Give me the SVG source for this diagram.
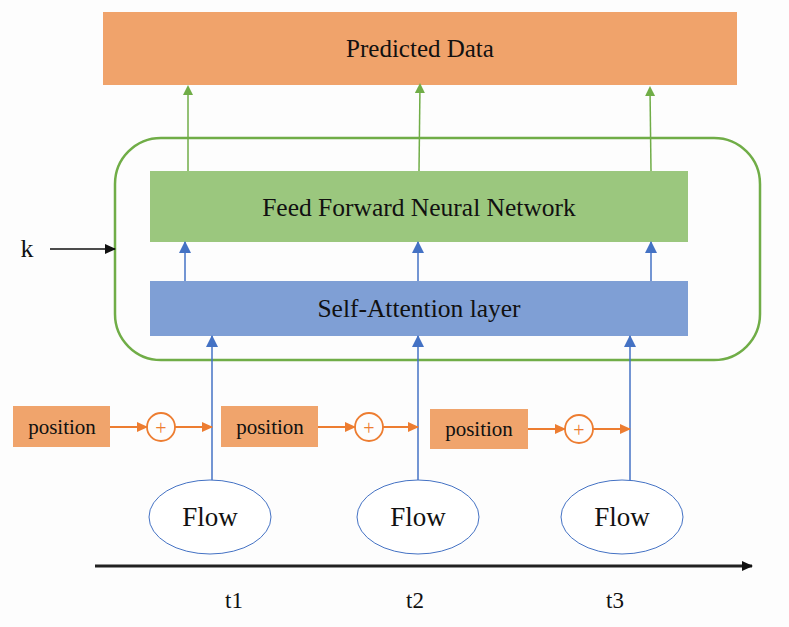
<svg xmlns="http://www.w3.org/2000/svg" width="789" height="627" viewBox="0 0 789 627">
<defs>
<style>
text{fill:#111;text-anchor:middle;dominant-baseline:central}
.green{stroke:#70AD47;stroke-width:1.5;fill:none}
.blue{stroke:#4472C4;stroke-width:1.5;fill:none}
.orange{stroke:#ED7D31;stroke-width:1.8;fill:none}
.pos{fill:#F0A46C}
</style>
<marker id="ag" markerWidth="10" markerHeight="12" refX="8" refY="5" orient="auto" markerUnits="userSpaceOnUse"><path d="M0,0 L10,5 L0,10 Z" fill="#70AD47"/></marker>
<marker id="ab" markerWidth="14" markerHeight="14" refX="11" refY="6" orient="auto" markerUnits="userSpaceOnUse"><path d="M0,0 L12,6 L0,12 Z" fill="#4472C4"/></marker>
<marker id="ao" markerWidth="12" markerHeight="12" refX="10" refY="5" orient="auto" markerUnits="userSpaceOnUse"><path d="M0,0 L11,5 L0,10 Z" fill="#ED7D31"/></marker>
<marker id="ak" markerWidth="12" markerHeight="12" refX="10" refY="5" orient="auto" markerUnits="userSpaceOnUse"><path d="M0,0 L11,5 L0,10 Z" fill="#111"/></marker>
</defs>
<rect width="789" height="627" fill="#fdfdfd"/>
<g font-family="'Liberation Serif', 'Times New Roman', serif">
<g id="predicted">
<rect x="103" y="12" width="634" height="73" fill="#F0A36B"/>
<text x="420" y="48" font-size="25">Predicted Data</text>
</g>
<g id="container">
<rect x="115" y="138" width="645" height="222" rx="46" ry="46" fill="none" stroke="#70AD47" stroke-width="2.5"/>
</g>
<g id="ffnn">
<rect x="150" y="171" width="538" height="71" fill="#9BC77E"/>
<text x="419" y="207" font-size="25.5">Feed Forward Neural Network</text>
</g>
<g id="attention">
<rect x="150" y="281" width="538" height="55" fill="#7F9FD5"/>
<text x="419" y="308" font-size="25.5">Self-Attention layer</text>
</g>
<g id="k">
<text x="27" y="248" font-size="26">k</text>
</g>
<g id="pos1"><rect class="pos" x="13" y="406" width="97" height="41"/><text x="62" y="427" font-size="21">position</text></g>
<g id="pos2"><rect class="pos" x="221" y="406" width="97" height="41"/><text x="270" y="427" font-size="21">position</text></g>
<g id="pos3"><rect class="pos" x="430" y="409" width="98" height="40"/><text x="479" y="429" font-size="21">position</text></g>
<g id="plus1"><circle class="orange" cx="161" cy="427" r="14"/><text x="161" y="428" font-size="20" style="fill:#ED7D31">+</text></g>
<g id="plus2"><circle class="orange" cx="369" cy="427" r="14"/><text x="369" y="428" font-size="20" style="fill:#ED7D31">+</text></g>
<g id="plus3"><circle class="orange" cx="579" cy="429" r="14"/><text x="579" y="430" font-size="20" style="fill:#ED7D31">+</text></g>
<g id="flow1"><ellipse cx="210" cy="517" rx="61" ry="37" fill="#fff" stroke="#4472C4" stroke-width="1"/><text x="210" y="517" font-size="27">Flow</text></g>
<g id="flow2"><ellipse cx="418" cy="517" rx="61" ry="37" fill="#fff" stroke="#4472C4" stroke-width="1"/><text x="418" y="517" font-size="27">Flow</text></g>
<g id="flow3"><ellipse cx="622" cy="517" rx="61" ry="37" fill="#fff" stroke="#4472C4" stroke-width="1"/><text x="622" y="517" font-size="27">Flow</text></g>
<g id="timeline">
<text x="234" y="600" font-size="23">t1</text>
<text x="415" y="600" font-size="23">t2</text>
<text x="615" y="600" font-size="23">t3</text>
</g>
</g>
<g id="connectors">
<line class="green" x1="188" y1="171" x2="188" y2="87" marker-end="url(#ag)"/>
<line class="green" x1="419" y1="171" x2="420" y2="85" marker-end="url(#ag)"/>
<line class="green" x1="651" y1="171" x2="650" y2="88" marker-end="url(#ag)"/>
<line class="blue" x1="185" y1="281" x2="185" y2="242" marker-end="url(#ab)"/>
<line class="blue" x1="418" y1="281" x2="418" y2="242" marker-end="url(#ab)"/>
<line class="blue" x1="651" y1="281" x2="651" y2="242" marker-end="url(#ab)"/>
<line class="blue" x1="212" y1="480" x2="212" y2="336" marker-end="url(#ab)"/>
<line class="blue" x1="418" y1="480" x2="418" y2="336" marker-end="url(#ab)"/>
<line class="blue" x1="630" y1="480" x2="630" y2="336" marker-end="url(#ab)"/>
<line x1="50" y1="249" x2="115" y2="249" stroke="#111" stroke-width="1.5" marker-end="url(#ak)"/>
<line class="orange" x1="110" y1="427" x2="147" y2="427" marker-end="url(#ao)"/>
<line class="orange" x1="175" y1="427" x2="212" y2="427" marker-end="url(#ao)"/>
<line class="orange" x1="318" y1="427" x2="355" y2="427" marker-end="url(#ao)"/>
<line class="orange" x1="383" y1="427" x2="418" y2="427" marker-end="url(#ao)"/>
<line class="orange" x1="528" y1="429" x2="565" y2="429" marker-end="url(#ao)"/>
<line class="orange" x1="593" y1="429" x2="630" y2="429" marker-end="url(#ao)"/>
<line x1="95" y1="566" x2="752" y2="566" stroke="#222" stroke-width="3" marker-end="url(#ak)"/>
</g>
</svg>
